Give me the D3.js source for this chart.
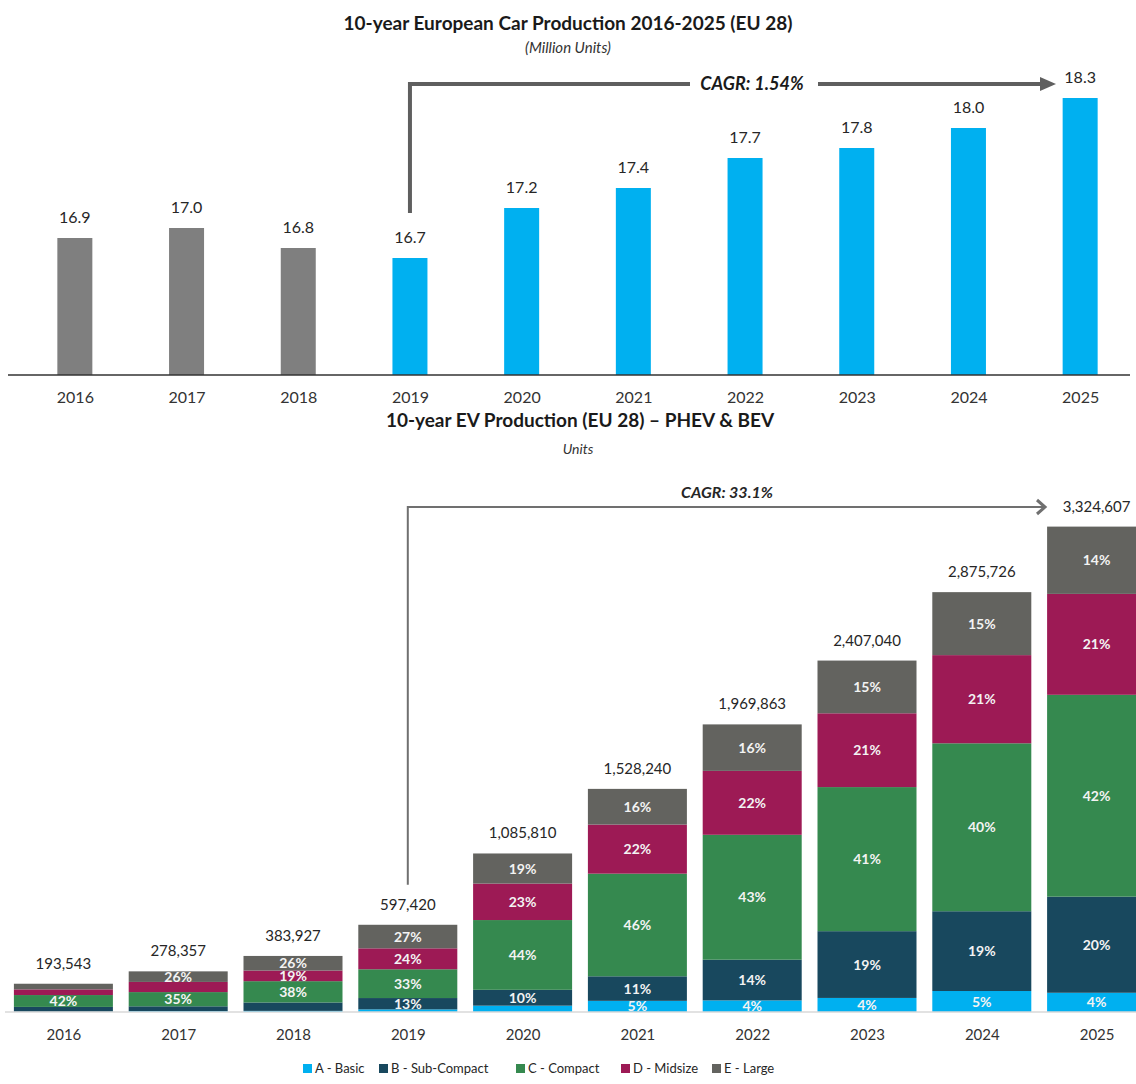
<!DOCTYPE html>
<html>
<head>
<meta charset="utf-8">
<script src="https://cdnjs.cloudflare.com/ajax/libs/d3/7.8.5/d3.min.js"></script>
<style>
  body { margin: 0; background: #fff; }
  text { font-family: Lato, 'Open Sans', sans-serif; }
</style>
</head>
<body>
<script>
// top chart data
var years = ['2016', '2017', '2018', '2019', '2020', '2021', '2022', '2023', '2024', '2025'];
var carProduction = [16.9, 17.0, 16.8, 16.7, 17.2, 17.4, 17.7, 17.8, 18.0, 18.3];
var forecastStart = '2019';

// bottom chart data
var evTotals = [193543, 278357, 383927, 597420, 1085810, 1528240, 1969863, 2407040, 2875726, 3324607];
var segments = ['A - Basic', 'B - Sub-Compact', 'C - Compact', 'D - Midsize', 'E - Large'];
var shareA = [1, 2, 2, 3, 4, 5, 4, 4, 5, 4];
var shareB = [17, 12, 15, 13, 10, 11, 14, 19, 19, 20];
var shareC = [42, 35, 38, 33, 44, 46, 43, 41, 40, 42];
var shareD = [20, 25, 19, 24, 23, 22, 22, 21, 21, 21];
var shareE = [20, 26, 26, 27, 19, 16, 16, 15, 15, 14];
var segColors = ['#00b0f0', '#18485e', '#35894f', '#9d1a55', '#63635f'];

var width = 1136;
var height = 1084;

var svg = d3.select('body')
            .append('svg')
            .attr('width', width)
            .attr('height', height);

// ---------- top chart ----------
var xTop = d3.scalePoint()
             .domain(years)
             .range([19, 1136])
             .padding(0.5);
var yTop = d3.scaleLinear()
             .domain([15.53, 18.53])
             .range([375, 75]);

svg.append('text')
   .attr('x', 568).attr('y', 30)
   .attr('text-anchor', 'middle')
   .style('font-size', '19px').style('font-weight', 'bold').style('fill', '#1a1a1a')
   .text('10-year European Car Production 2016-2025 (EU 28)');
svg.append('text')
   .attr('x', 568).attr('y', 53)
   .attr('text-anchor', 'middle')
   .style('font-size', '15px').style('font-style', 'italic').style('fill', '#333')
   .text('(Million Units)');

var topData = years.map(function (y, i) { return {year: y, value: carProduction[i]}; });

svg.selectAll('.topbar')
   .data(topData)
   .enter()
   .append('rect')
     .attr('class', 'topbar')
     .attr('x', function (d) { return xTop(d.year) - 17.5; })
     .attr('width', 35)
     .attr('y', function (d) { return yTop(d.value); })
     .attr('height', function (d) { return yTop(15.53) - yTop(d.value); })
     .attr('fill', function (d) { return d.year < forecastStart ? '#7f7f7f' : '#00b0f0'; });

svg.selectAll('.toplabel')
   .data(topData)
   .enter()
   .append('text')
     .attr('class', 'toplabel')
     .attr('x', function (d) { return xTop(d.year); })
     .attr('y', function (d) { return yTop(d.value) - 15; })
     .attr('text-anchor', 'middle')
     .style('font-size', '16px').style('fill', '#262626')
     .text(function (d) { return d3.format('.1f')(d.value); });

var xAxisTop = d3.axisBottom(xTop).tickSize(0).tickPadding(17);
var gTop = svg.append('g')
              .attr('transform', 'translate(0,375)')
              .call(xAxisTop);
gTop.select('.domain').remove();
gTop.append('line')
    .attr('x1', 8).attr('x2', 1130)
    .attr('stroke', '#333').attr('stroke-width', 1.5);
gTop.selectAll('.tick text')
    .style('font-size', '16px').style('fill', '#333').style('font-family', 'Lato, sans-serif');

// CAGR arrow (top)
var ax0 = xTop(forecastStart);
var ay = 84;
svg.append('path')
   .attr('d', 'M' + ax0 + ',' + (yTop(16.7) - 45) + 'V' + ay + 'H1042')
   .attr('fill', 'none')
   .attr('stroke', '#5f5f5f')
   .attr('stroke-width', 4);
svg.append('path')
   .attr('d', 'M1040,' + (ay - 7) + 'L1056,' + ay + 'L1040,' + (ay + 7) + 'Z')
   .attr('fill', '#5f5f5f');
svg.append('rect')
   .attr('x', 690).attr('y', ay - 12).attr('width', 128).attr('height', 24)
   .attr('fill', '#fff');
svg.append('text')
   .attr('x', 752).attr('y', ay + 6)
   .attr('text-anchor', 'middle')
   .style('font-size', '18px').style('font-weight', 'bold').style('font-style', 'italic').style('fill', '#1a1a1a')
   .text('CAGR: 1.54%');

// ---------- bottom chart ----------
var xBot = d3.scalePoint()
             .domain(years)
             .range([6, 1154])
             .padding(0.5);
var yBot = d3.scaleLinear()
             .domain([0, 3500000])
             .range([1012, 501]);

svg.append('text')
   .attr('x', 580).attr('y', 427)
   .attr('text-anchor', 'middle')
   .style('font-size', '19px').style('font-weight', 'bold').style('fill', '#1a1a1a')
   .text('10-year EV Production (EU 28) \u2013 PHEV & BEV');
svg.append('text')
   .attr('x', 578).attr('y', 454)
   .attr('text-anchor', 'middle')
   .style('font-size', '14px').style('font-style', 'italic').style('fill', '#333')
   .text('Units');

var shares = [shareA, shareB, shareC, shareD, shareE];
var table = years.map(function (y, i) {
  var row = {year: y, total: evTotals[i]};
  var sum = d3.sum(shares, function (s) { return s[i]; });
  segments.forEach(function (k, j) {
    row[k] = evTotals[i] * shares[j][i] / sum;
    row['pct_' + k] = shares[j][i];
  });
  return row;
});

var stack = d3.stack().keys(segments);
var series = stack(table);

var layers = svg.selectAll('.layer')
                .data(series)
                .enter()
                .append('g')
                  .attr('class', 'layer')
                  .attr('fill', function (d, i) { return segColors[i]; });

layers.selectAll('rect')
      .data(function (d) { return d; })
      .enter()
      .append('rect')
        .attr('x', function (d) { return xBot(d.data.year) - 49.5; })
        .attr('width', 99)
        .attr('y', function (d) { return yBot(d[1]); })
        .attr('height', function (d) { return yBot(d[0]) - yBot(d[1]); });

// percent labels inside segments, only where there is room
series.forEach(function (s) {
  svg.selectAll('.pct-' + s.index)
     .data(s.filter(function (d) { return yBot(d[0]) - yBot(d[1]) >= 10.4; }))
     .enter()
     .append('text')
       .attr('x', function (d) { return xBot(d.data.year); })
       .attr('y', function (d) { return (yBot(d[0]) + yBot(d[1])) / 2; })
       .attr('dy', '0.36em')
       .attr('text-anchor', 'middle')
       .style('font-size', '14px').style('font-weight', 'bold').style('fill', '#f3f3f3')
       .text(function (d) { return d.data['pct_' + s.key] + '%'; });
});

svg.selectAll('.evtotal')
   .data(table)
   .enter()
   .append('text')
     .attr('class', 'evtotal')
     .attr('x', function (d) { return xBot(d.year); })
     .attr('y', function (d) { return yBot(d.total) - 15; })
     .attr('text-anchor', 'middle')
     .style('font-size', '15px').style('fill', '#262626')
     .text(function (d) { return d3.format(',')(d.total); });

var xAxisBot = d3.axisBottom(xBot).tickSize(0).tickPadding(17);
var gBot = svg.append('g')
              .attr('transform', 'translate(0,1012)')
              .call(xAxisBot);
gBot.select('.domain').remove();
gBot.append('line')
    .attr('x1', 5).attr('x2', 1136)
    .attr('stroke', '#d9d9d9').attr('stroke-width', 1.5);
gBot.selectAll('.tick text')
    .style('font-size', '15px').style('fill', '#333').style('font-family', 'Lato, sans-serif');

// CAGR arrow (bottom)
var bx0 = xBot(forecastStart);
var by = 507;
svg.append('path')
   .attr('d', 'M' + bx0 + ',' + (yBot(597420) - 40) + 'V' + by + 'H1044')
   .attr('fill', 'none')
   .attr('stroke', '#707070')
   .attr('stroke-width', 2);
svg.append('path')
   .attr('d', 'M1037,' + (by - 7) + 'L1045,' + by + 'L1037,' + (by + 7))
   .attr('fill', 'none')
   .attr('stroke', '#707070')
   .attr('stroke-width', 3);
svg.append('text')
   .attr('x', 727).attr('y', 498)
   .attr('text-anchor', 'middle')
   .style('font-size', '16px').style('font-weight', 'bold').style('font-style', 'italic').style('fill', '#262626')
   .text('CAGR: 33.1%');

// legend
var legend = svg.selectAll('.legend')
                .data(segments)
                .enter()
                .append('g')
                  .attr('class', 'legend');
var legendX = d3.scaleOrdinal().domain(segments).range([303, 379, 516, 621, 712]);
legend.append('rect')
      .attr('x', function (d) { return legendX(d); })
      .attr('y', 1064)
      .attr('width', 9).attr('height', 9)
      .attr('fill', function (d, i) { return segColors[i]; });
legend.append('text')
      .attr('x', function (d) { return legendX(d) + 12; })
      .attr('y', 1073)
      .style('font-size', '13px').style('fill', '#262626')
      .text(function (d) { return d; });
</script>
</body>
</html>
